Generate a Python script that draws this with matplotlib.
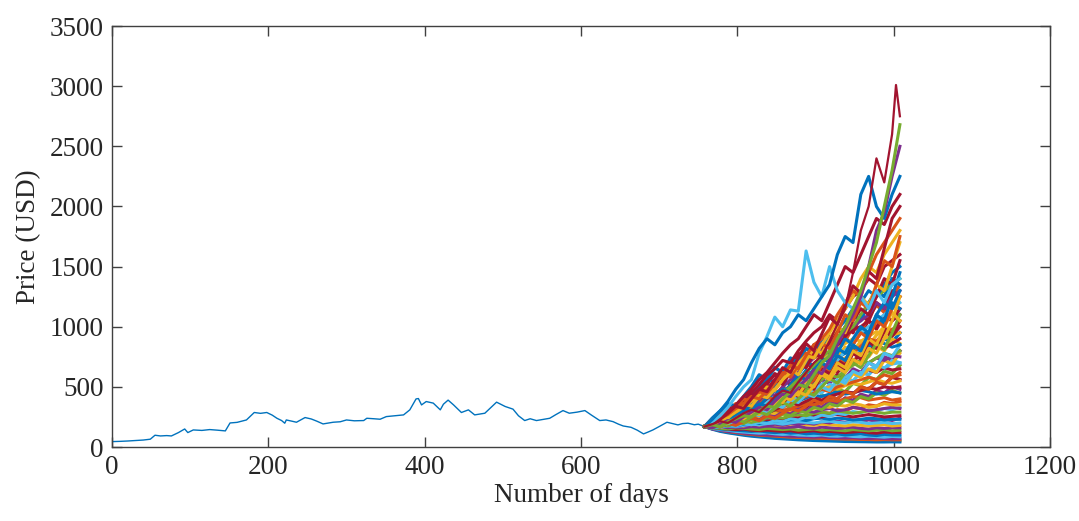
import matplotlib.pyplot as plt

# historical price
hist_days = [0, 10, 20, 30, 40, 49, 55, 62, 70, 76, 85, 93, 97, 104, 115, 125, 135, 145,
             151, 160, 172, 182, 190, 198, 205, 211, 217, 221, 223, 230, 236, 247, 255,
             262, 270, 283, 292, 300, 310, 322, 326, 335, 343, 351, 362, 373, 381, 389,
             392, 396, 402, 411, 420, 424, 430, 437, 447, 456, 464, 477, 485, 492, 503,
             513, 520, 528, 535, 543, 552, 560, 568, 577, 585, 595, 605, 613, 624, 632,
             641, 648, 654, 664, 672, 680, 686, 692, 700, 710, 717, 724, 730, 737, 745,
             750, 758]
hist_price = [45, 47, 50, 54, 58, 65, 98, 92, 95, 92, 120, 150, 120, 142, 138, 145, 140, 134,
              200, 205, 225, 287, 280, 287, 265, 239, 220, 198, 225, 215, 206, 245, 233,
              215, 192, 206, 210, 225, 218, 220, 239, 235, 231, 253, 260, 267, 309, 400,
              403, 350, 378, 365, 309, 356, 390, 350, 287, 309, 267, 281, 330, 373, 337,
              315, 260, 220, 235, 220, 230, 239, 270, 303, 281, 290, 303, 267, 220, 225,
              211, 190, 175, 164, 140, 109, 125, 142, 170, 206, 195, 184, 195, 198, 185,
              190, 170]

# simulated paths, sampled every 10 days
sim_days = list(range(758, 1009, 10))

# paths in the middle of the fan
mid_paths = [
    [170, 215, 200, 260, 310, 290, 360, 430, 400, 480, 560, 520, 610, 700, 650, 760, 720, 820, 900, 860, 950, 1050, 980, 1100, 1050, 1150],
    [170, 195, 240, 290, 270, 330, 310, 380, 450, 420, 500, 470, 560, 530, 620, 700, 660, 750, 830, 790, 880, 840, 930, 1000, 960, 1050],
    [170, 185, 215, 250, 290, 270, 320, 380, 350, 420, 490, 460, 540, 620, 590, 680, 640, 730, 700, 790, 760, 850, 820, 900, 870, 950],
    [170, 205, 250, 300, 360, 340, 410, 490, 460, 550, 640, 600, 700, 660, 760, 860, 820, 930, 880, 1000, 960, 1080, 1180, 1120, 1250, 1350],
    [170, 190, 175, 210, 195, 235, 220, 270, 250, 300, 280, 340, 320, 380, 360, 430, 410, 480, 460, 530, 510, 580, 560, 630, 610, 680],
    [170, 200, 230, 215, 260, 300, 280, 330, 310, 370, 420, 400, 460, 440, 500, 560, 530, 600, 570, 650, 620, 700, 670, 750, 720, 800],
    [170, 220, 270, 330, 310, 380, 460, 430, 520, 610, 570, 670, 780, 730, 850, 800, 920, 870, 1000, 950, 1100, 1050, 1200, 1150, 1300, 1250],
    [170, 180, 210, 240, 225, 265, 310, 290, 340, 320, 380, 360, 420, 400, 470, 450, 520, 500, 570, 550, 620, 600, 670, 650, 720, 700],
    [170, 200, 190, 230, 270, 250, 300, 350, 330, 390, 450, 420, 490, 560, 530, 610, 580, 660, 740, 700, 790, 750, 840, 800, 900, 860],
    [170, 240, 300, 360, 340, 420, 500, 600, 560, 660, 620, 740, 700, 820, 780, 900, 860, 1000, 950, 1100, 1050, 1200, 1300, 1250, 1400, 1350],
    [170, 175, 160, 180, 170, 195, 185, 210, 200, 230, 220, 250, 240, 270, 260, 290, 280, 310, 300, 330, 320, 350, 340, 370, 360, 380],
    [170, 185, 205, 190, 225, 210, 250, 235, 280, 265, 310, 295, 345, 330, 380, 365, 420, 400, 460, 440, 500, 480, 540, 520, 580, 560],
]
mid_colors = ['#A2142F', '#EDB120', '#0072BD', '#D95319', '#77AC30', '#7E2F8E',
              '#A2142F', '#4DBEEE', '#EDB120', '#0072BD', '#D95319', '#A2142F']

sim_paths = [
    [170, 150, 135, 122, 112, 104, 98, 92, 86, 82, 78, 74, 70, 67, 64, 62, 60, 58, 56, 54, 53, 52, 51, 50, 51, 50],
    [170, 148, 130, 118, 108, 98, 90, 84, 78, 72, 68, 64, 60, 57, 54, 52, 50, 48, 46, 45, 44, 43, 42, 42, 43, 42],
    [170, 155, 140, 128, 120, 110, 105, 98, 95, 90, 86, 82, 80, 76, 74, 72, 70, 68, 66, 65, 63, 62, 60, 62, 60, 60],
    [170, 150, 140, 130, 125, 115, 110, 105, 100, 98, 95, 90, 88, 85, 82, 85, 80, 78, 75, 78, 72, 70, 74, 70, 68, 70],
    [170, 155, 145, 140, 130, 125, 120, 115, 118, 110, 105, 108, 100, 98, 95, 100, 92, 90, 95, 88, 85, 90, 86, 82, 88, 85],
    [170, 160, 150, 145, 140, 135, 130, 135, 125, 120, 125, 115, 120, 110, 115, 110, 105, 110, 100, 105, 110, 100, 95, 105, 100, 100],
    [170, 165, 155, 150, 145, 150, 140, 135, 140, 135, 130, 135, 125, 130, 135, 125, 130, 125, 120, 125, 130, 120, 115, 125, 120, 120],
    [170, 160, 155, 150, 160, 155, 150, 145, 155, 150, 145, 150, 140, 145, 150, 140, 145, 140, 135, 145, 140, 135, 140, 145, 135, 140],
    [170, 165, 160, 170, 165, 160, 170, 165, 175, 170, 160, 165, 170, 160, 155, 165, 160, 155, 160, 165, 155, 150, 160, 155, 160, 160],
    [170, 175, 165, 170, 180, 175, 185, 180, 190, 185, 180, 190, 195, 185, 180, 190, 185, 180, 175, 185, 180, 175, 180, 185, 175, 180],
    [170, 165, 175, 160, 170, 180, 170, 185, 175, 190, 180, 195, 185, 200, 190, 210, 200, 215, 205, 220, 210, 225, 215, 230, 220, 240],
    [170, 160, 165, 175, 170, 180, 190, 185, 195, 200, 190, 200, 210, 205, 200, 210, 215, 205, 200, 210, 205, 195, 200, 205, 195, 200],
    [170, 165, 170, 180, 175, 190, 200, 195, 210, 220, 215, 225, 230, 220, 235, 240, 230, 240, 235, 225, 230, 240, 235, 225, 230, 230],
    [170, 175, 180, 190, 185, 200, 210, 220, 230, 220, 235, 245, 240, 250, 260, 250, 265, 270, 260, 250, 260, 270, 260, 250, 255, 260],
    [170, 175, 165, 185, 175, 195, 185, 205, 195, 220, 210, 235, 225, 250, 240, 265, 255, 280, 270, 295, 285, 310, 300, 320, 310, 330],
    [170, 165, 175, 185, 200, 215, 205, 220, 240, 250, 240, 260, 270, 260, 280, 290, 280, 300, 290, 280, 290, 300, 290, 280, 290, 290],
    [170, 175, 185, 200, 190, 210, 230, 250, 240, 260, 280, 270, 290, 300, 290, 310, 320, 300, 310, 330, 320, 300, 310, 320, 330, 320],
    [170, 165, 175, 190, 210, 200, 225, 245, 260, 280, 270, 290, 310, 300, 320, 340, 330, 350, 340, 360, 350, 330, 340, 360, 350, 350],
    [170, 175, 200, 185, 215, 200, 240, 225, 265, 250, 290, 275, 320, 300, 350, 330, 380, 360, 410, 390, 440, 420, 470, 450, 500, 480],
    [170, 175, 190, 205, 225, 250, 240, 265, 290, 310, 300, 320, 340, 360, 350, 370, 390, 380, 400, 420, 410, 390, 400, 410, 390, 400],
    [170, 160, 185, 175, 205, 195, 230, 215, 250, 235, 275, 260, 300, 285, 330, 310, 360, 340, 390, 370, 420, 400, 450, 430, 470, 450],
    [170, 180, 200, 220, 250, 280, 300, 330, 360, 340, 370, 400, 380, 410, 430, 420, 440, 460, 440, 450, 470, 460, 440, 450, 460, 450],
    [170, 165, 180, 195, 215, 240, 260, 290, 280, 310, 340, 370, 350, 380, 410, 390, 420, 440, 460, 450, 470, 490, 480, 500, 490, 500],
    [170, 180, 200, 230, 260, 290, 320, 360, 340, 380, 420, 400, 440, 470, 450, 480, 500, 480, 510, 530, 520, 540, 560, 540, 530, 550],
    [170, 180, 165, 195, 180, 210, 240, 220, 260, 240, 280, 320, 300, 340, 390, 360, 420, 400, 460, 440, 500, 480, 540, 520, 580, 620],
    [170, 175, 190, 210, 200, 230, 260, 290, 320, 350, 330, 360, 390, 420, 450, 480, 460, 500, 520, 540, 560, 580, 560, 600, 580, 600],
    [170, 185, 205, 230, 260, 250, 290, 320, 360, 400, 380, 420, 460, 500, 480, 520, 560, 600, 580, 620, 600, 640, 620, 660, 640, 650],
    [170, 160, 175, 195, 220, 250, 280, 260, 300, 340, 380, 420, 400, 440, 480, 520, 560, 540, 580, 620, 600, 640, 680, 660, 690, 700],
    [170, 200, 185, 220, 260, 240, 290, 270, 320, 370, 340, 400, 380, 450, 420, 500, 470, 550, 520, 610, 580, 650, 620, 720, 690, 780],
    [170, 180, 195, 215, 240, 270, 300, 330, 360, 400, 430, 470, 510, 490, 540, 580, 620, 660, 640, 690, 720, 700, 740, 720, 760, 750],
    [170, 165, 180, 200, 230, 250, 280, 310, 350, 330, 370, 410, 450, 480, 520, 560, 600, 580, 640, 680, 720, 700, 740, 780, 760, 800],
    [170, 180, 210, 195, 235, 280, 260, 310, 290, 350, 330, 390, 370, 440, 420, 500, 470, 560, 530, 630, 600, 700, 670, 780, 750, 850],
    [170, 190, 230, 270, 320, 380, 440, 500, 560, 540, 600, 650, 620, 700, 680, 720, 760, 740, 780, 820, 800, 840, 880, 860, 830, 850],
    [170, 180, 200, 220, 260, 290, 330, 320, 360, 400, 440, 480, 460, 520, 560, 600, 640, 620, 680, 720, 760, 800, 840, 820, 860, 900],
    [170, 185, 210, 240, 280, 320, 370, 420, 470, 520, 560, 600, 640, 700, 760, 720, 780, 820, 860, 900, 880, 920, 960, 900, 930, 950],
    [170, 160, 185, 210, 240, 270, 310, 350, 330, 380, 420, 470, 520, 500, 560, 620, 680, 720, 700, 780, 840, 900, 880, 950, 980, 1000],
    [170, 200, 230, 270, 250, 300, 350, 330, 400, 380, 460, 430, 520, 600, 560, 650, 610, 720, 680, 800, 760, 880, 840, 960, 920, 1000],
    [170, 205, 190, 240, 225, 290, 270, 340, 310, 390, 360, 450, 420, 520, 480, 600, 560, 690, 640, 780, 730, 880, 820, 990, 930, 1050],
    [170, 190, 210, 250, 300, 360, 420, 480, 540, 600, 560, 640, 700, 680, 760, 820, 880, 850, 920, 980, 1000, 1050, 1000, 1080, 1050, 1100],
    [170, 185, 170, 200, 230, 210, 250, 290, 270, 320, 370, 340, 400, 460, 430, 500, 570, 530, 620, 700, 660, 760, 860, 810, 950, 1100],
    [170, 210, 250, 230, 280, 330, 310, 370, 440, 410, 490, 460, 550, 640, 600, 700, 660, 780, 900, 850, 980, 920, 1080, 1020, 1200, 1150],
    [170, 175, 200, 230, 260, 300, 280, 330, 370, 420, 480, 450, 520, 580, 640, 700, 760, 720, 800, 880, 950, 1000, 1050, 1100, 1150, 1200],
    [170, 190, 220, 200, 260, 240, 300, 350, 320, 400, 370, 460, 430, 530, 500, 620, 580, 700, 660, 800, 760, 900, 850, 1000, 1120, 1050],
    [170, 200, 240, 220, 280, 330, 300, 370, 420, 390, 480, 450, 540, 600, 560, 680, 640, 760, 720, 850, 950, 900, 1050, 1000, 1150, 1250],
    [170, 190, 180, 215, 250, 235, 280, 330, 310, 360, 420, 390, 460, 430, 510, 600, 560, 660, 620, 730, 690, 820, 780, 900, 1050, 1250],
    [170, 190, 220, 260, 240, 290, 340, 390, 450, 430, 500, 560, 620, 680, 740, 800, 780, 880, 950, 1000, 1050, 1100, 1200, 1150, 1250, 1300],
    [170, 195, 230, 270, 250, 310, 360, 340, 410, 470, 440, 520, 590, 560, 650, 740, 700, 820, 780, 900, 1000, 950, 1100, 1200, 1150, 1300],
    [170, 160, 190, 210, 250, 280, 320, 300, 350, 400, 450, 500, 560, 620, 680, 750, 800, 880, 950, 1000, 1100, 1200, 1250, 1300, 1350, 1400],
    [170, 200, 240, 220, 270, 320, 300, 360, 340, 410, 480, 450, 530, 500, 600, 700, 650, 760, 720, 850, 800, 950, 1100, 1050, 1250, 1450],
    [170, 180, 200, 240, 270, 300, 350, 400, 460, 500, 560, 620, 600, 700, 760, 850, 900, 980, 1050, 1150, 1200, 1300, 1250, 1350, 1450, 1500],
    [170, 220, 260, 310, 290, 360, 420, 400, 480, 560, 520, 620, 700, 660, 780, 740, 880, 980, 920, 1050, 1150, 1100, 1250, 1400, 1350, 1550],
    [170, 200, 230, 280, 330, 380, 450, 520, 600, 650, 720, 700, 800, 880, 950, 1000, 1100, 1050, 1150, 1250, 1300, 1400, 1350, 1500, 1550, 1600],
    [170, 210, 260, 240, 300, 360, 340, 420, 500, 470, 560, 650, 600, 720, 820, 780, 900, 1000, 950, 1100, 1250, 1180, 1350, 1300, 1500, 1700],
    [170, 230, 280, 260, 330, 400, 380, 460, 440, 530, 620, 580, 680, 780, 740, 860, 820, 950, 1100, 1050, 1200, 1150, 1350, 1550, 1500, 1750],
    [170, 180, 210, 250, 290, 330, 380, 430, 410, 480, 560, 620, 700, 760, 740, 850, 950, 1050, 1150, 1250, 1400, 1500, 1450, 1600, 1700, 1800],
    [170, 190, 240, 270, 320, 360, 420, 400, 470, 540, 600, 680, 650, 760, 850, 900, 980, 1100, 1200, 1300, 1250, 1450, 1600, 1700, 1800, 1900],
    [170, 190, 230, 280, 340, 320, 400, 480, 460, 560, 660, 620, 740, 860, 800, 940, 1080, 1020, 1180, 1340, 1280, 1460, 1400, 1650, 1900, 2000],
    [170, 210, 250, 290, 350, 420, 480, 560, 620, 700, 780, 850, 900, 1000, 1100, 1050, 1200, 1350, 1500, 1450, 1600, 1750, 1900, 1850, 2000, 2100],
    [170, 210, 260, 330, 420, 500, 560, 780, 920, 1080, 1000, 1140, 1130, 1630, 1370, 1250, 1500, 1300, 1200, 1150, 1250, 1150, 1300, 1200, 1350, 1400],
    [170, 230, 300, 380, 480, 560, 700, 820, 900, 850, 950, 1000, 1100, 1050, 1150, 1250, 1350, 1600, 1750, 1700, 2100, 2250, 2000, 1900, 2100, 2250],
    [170, 160, 190, 220, 205, 250, 290, 330, 310, 380, 440, 420, 500, 560, 640, 610, 720, 850, 980, 1100, 1250, 1500, 1800, 1950, 2250, 2500],
    [170, 185, 170, 210, 235, 260, 250, 300, 340, 330, 400, 460, 520, 500, 600, 700, 760, 900, 1000, 1150, 1300, 1500, 1700, 2000, 2300, 2680],
]
sim_colors = ['#77AC30', '#0072BD', '#D95319', '#7E2F8E', '#4DBEEE', '#0072BD', '#A2142F',
              '#77AC30', '#7E2F8E', '#EDB120', '#7E2F8E', '#4DBEEE', '#0072BD', '#A2142F',
              '#4DBEEE', '#77AC30', '#7E2F8E', '#EDB120', '#7E2F8E', '#D95319', '#77AC30',
              '#0072BD', '#A2142F', '#EDB120', '#D95319', '#D95319', '#A2142F', '#4DBEEE',
              '#EDB120', '#7E2F8E', '#77AC30', '#4DBEEE', '#0072BD', '#A2142F', '#EDB120',
              '#D95319', '#A2142F', '#A2142F', '#A2142F', '#77AC30', '#0072BD', '#4DBEEE',
              '#EDB120', '#D95319', '#EDB120', '#7E2F8E', '#0072BD', '#77AC30', '#0072BD',
              '#0072BD', '#A2142F', '#A2142F', '#EDB120', '#D95319', '#EDB120', '#D95319',
              '#A2142F', '#A2142F', '#4DBEEE', '#0072BD', '#7E2F8E', '#77AC30']

# highest path, with its peak just before the end
top_days = sim_days[:25] + [1003, 1008]
top_path = [170, 190, 215, 200, 240, 280, 310, 290, 350, 420, 470, 450, 540, 620, 700, 760,
            880, 1020, 1150, 1450, 1800, 2000, 2400, 2200, 2600, 3010, 2750]

plt.rcParams['font.family'] = ['Liberation Serif', 'DejaVu Serif']

fig = plt.figure(figsize=(10.79, 5.21), dpi=100)
ax = fig.add_axes([0.1038, 0.142, 0.8693, 0.8080])

ax.plot(hist_days, hist_price, color='#0072BD', lw=1.0)
for path, c in zip(mid_paths, mid_colors):
    ax.plot(sim_days, path, color=c, lw=2.4)
for path, c in zip(sim_paths, sim_colors):
    ax.plot(sim_days, path, color=c, lw=2.2)
ax.plot(top_days, top_path, color='#A2142F', lw=1.6)

ax.set_xlim(0, 1200)
ax.set_ylim(0, 3500)
ax.set_xticks(range(0, 1201, 200))
ax.set_yticks(range(0, 3501, 500))
ax.tick_params(direction='in', length=7, width=1.0, color='#404040',
               labelsize=19.5, top=True, right=True, pad=6, labelcolor='#262626')
for s in ax.spines.values():
    s.set_color('#404040')
    s.set_linewidth(1.0)

ax.set_xlabel('Number of days', fontsize=19.5, color='#262626', labelpad=2)
ax.set_ylabel('Price (USD)', fontsize=19.5, color='#262626', labelpad=6)

fig.savefig('out.png', dpi=100)
